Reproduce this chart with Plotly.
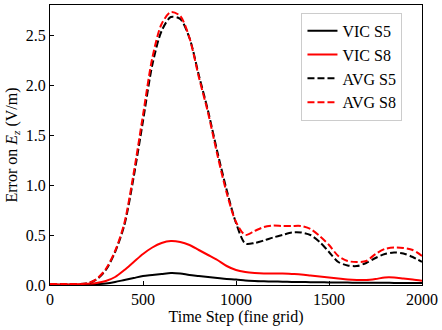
import plotly.graph_objects as go

steps = [0, 100, 200, 250, 300, 350, 400, 450, 500, 550, 600, 650, 700, 750, 800,
         850, 900, 950, 1000, 1050, 1100, 1150, 1200, 1250, 1300, 1350, 1400, 1450,
         1500, 1550, 1600, 1650, 1700, 1750, 1800, 1850, 1900, 1950, 2000]

vic_s5 = [0.003, 0.003, 0.005, 0.008, 0.015, 0.03, 0.05, 0.07, 0.09, 0.10, 0.11, 0.12,
          0.115, 0.10, 0.09, 0.08, 0.07, 0.06, 0.055, 0.045, 0.04, 0.037, 0.035, 0.033,
          0.031, 0.03, 0.028, 0.027, 0.026, 0.025, 0.024, 0.023, 0.022, 0.022, 0.022,
          0.021, 0.021, 0.02, 0.02]

vic_s8 = [0.005, 0.005, 0.012, 0.02, 0.04, 0.08, 0.15, 0.23, 0.31, 0.375, 0.42, 0.44,
          0.43, 0.40, 0.35, 0.30, 0.25, 0.19, 0.15, 0.13, 0.12, 0.115, 0.115, 0.115,
          0.11, 0.105, 0.095, 0.085, 0.075, 0.065, 0.055, 0.05, 0.05, 0.06, 0.075,
          0.075, 0.065, 0.055, 0.043]

avg_s5 = [0.01, 0.01, 0.015, 0.055, 0.15, 0.33, 0.60, 1.08, 1.64, 2.20, 2.54, 2.68,
          2.66, 2.47, 2.10, 1.74, 1.33, 0.95, 0.62, 0.415, 0.42, 0.445, 0.475, 0.50,
          0.525, 0.525, 0.50, 0.43, 0.33, 0.23, 0.195, 0.19, 0.22, 0.27, 0.31, 0.325,
          0.315, 0.28, 0.23]

avg_s8 = [0.01, 0.01, 0.015, 0.06, 0.16, 0.34, 0.62, 1.12, 1.70, 2.27, 2.61, 2.73,
          2.69, 2.47, 2.08, 1.72, 1.30, 0.92, 0.63, 0.50, 0.54, 0.58, 0.595, 0.59,
          0.59, 0.59, 0.56, 0.49, 0.40, 0.29, 0.24, 0.23, 0.24, 0.31, 0.36, 0.375,
          0.37, 0.35, 0.29]

series = [
    ("VIC S5", vic_s5, "#000000", "solid"),
    ("VIC S8", vic_s8, "#ff0000", "solid"),
    ("AVG S5", avg_s5, "#000000", "7px,3px"),
    ("AVG S8", avg_s8, "#ff0000", "7px,3px"),
]

font_family = "Liberation Serif, Times New Roman, serif"

fig = go.Figure()
for name, ys, color, dash in series:
    fig.add_trace(go.Scatter(
        x=steps, y=ys, name=name, mode="lines",
        line=dict(color=color, width=2, dash=dash, shape="spline", smoothing=0.8),
    ))

fig.update_layout(
    width=442, height=330,
    margin=dict(l=50, r=15, t=4, b=45),
    paper_bgcolor="white", plot_bgcolor="white",
    font=dict(family=font_family, size=16, color="black"),
    showlegend=True,
    legend=dict(
        x=0.676, y=0.972, xanchor="left", yanchor="top",
        bgcolor="rgba(255,255,255,0.8)", bordercolor="#cccccc", borderwidth=1,
        font=dict(family=font_family, size=16, color="black"),
        tracegroupgap=0,
    ),
)

fig.update_xaxes(
    range=[0, 2000], tickvals=[0, 500, 1000, 1500, 2000],
    ticks="inside", ticklen=4, tickcolor="black", tickwidth=1,
    ticklabeloverflow="allow",
    showline=True, linecolor="black", linewidth=1, mirror=True,
    showgrid=False, zeroline=False,
    title=dict(text="Time Step (fine grid)", standoff=2,
               font=dict(family=font_family, size=16)),
    tickfont=dict(family=font_family, size=16),
)
fig.update_yaxes(
    range=[0, 2.8], tickvals=[0, 0.5, 1.0, 1.5, 2.0, 2.5],
    ticktext=["0.0", "0.5", "1.0", "1.5", "2.0", "2.5"],
    ticks="inside", ticklen=4, tickcolor="black", tickwidth=1,
    ticklabeloverflow="allow",
    showline=True, linecolor="black", linewidth=1, mirror=True,
    showgrid=False, zeroline=False,
    title=dict(text="Error on <i>E</i><sub><i>z</i></sub> (V/m)", standoff=4,
               font=dict(family=font_family, size=16)),
    tickfont=dict(family=font_family, size=16),
)

fig.write_html("out.html")
